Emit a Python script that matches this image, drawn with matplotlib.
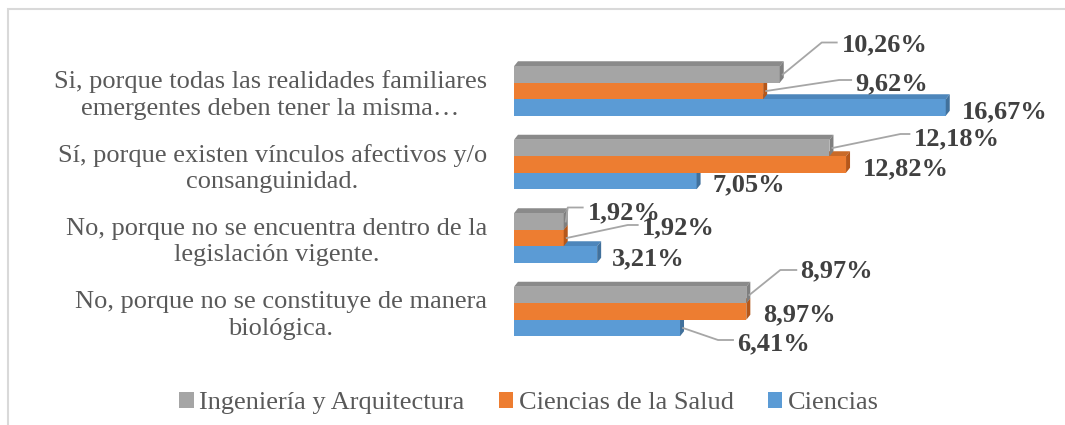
import matplotlib
matplotlib.use("Agg")
import matplotlib.pyplot as plt
from matplotlib.patches import Polygon, Patch, Rectangle

# data, top category first
categories = [
    "Si, porque todas las realidades familiares\nemergentes deben tener la misma…",
    "Sí, porque existen vínculos afectivos y/o\nconsanguinidad.",
    "No, porque no se encuentra dentro de la\nlegislación vigente.",
    "No, porque no se constituye de manera\nbiológica.",
]
series_names = ["Ingeniería y Arquitectura", "Ciencias de la Salud", "Ciencias"]
ingenieria = [10.26, 12.18, 1.92, 8.97]
salud = [9.62, 12.82, 1.92, 8.97]
ciencias = [16.67, 7.05, 3.21, 6.41]

colors = ["#a5a5a5", "#ed7d31", "#5b9bd5"]
side_colors = ["#7f7f7f", "#b5571a", "#41719c"]
top_colors = ["#8a8a8a", "#c96a28", "#4d86bb"]

W, H = 1065, 425
fig = plt.figure(figsize=(W / 100, H / 100), dpi=100)

# axes geometry in pixels
x0_px = 514
px_per_pct = 25.9
xmax = 20
group_px = 73.5
y_bottom_px = 311.5 + group_px / 2  # from top
ax = fig.add_axes([x0_px / W, (H - y_bottom_px) / H,
                   xmax * px_per_pct / W, 4 * group_px / H])
ax.set_xlim(0, xmax)
ax.set_ylim(-0.5, 3.5)
ax.axis("off")

PX = 1 / px_per_pct      # data units per pixel in x
PY = 1 / group_px        # data units per pixel in y

bar_h = 16.5 * PY
dx, dy = 4 * PX, 5 * PY
offsets = [bar_h, 0, -bar_h]   # gray on top, orange, blue
ypos = [3, 2, 1, 0]

series = [ingenieria, salud, ciencias]

# draw bottom series first so upper bars cover top faces
for s in [2, 1, 0]:
    for i, v in enumerate(series[s]):
        yc = ypos[i] + offsets[s]
        yb, yt = yc - bar_h / 2, yc + bar_h / 2
        ax.barh(yc, v, height=bar_h, color=colors[s], zorder=3 + (2 - s) * 3)
        ax.add_patch(Polygon([(v, yb), (v + dx, yb + dy), (v + dx, yt + dy), (v, yt)],
                             closed=True, facecolor=side_colors[s], edgecolor="none",
                             zorder=4 + (2 - s) * 3))
        ax.add_patch(Polygon([(0, yt), (v, yt), (v + dx, yt + dy), (dx, yt + dy)],
                             closed=True, facecolor=top_colors[s], edgecolor="none",
                             zorder=2 + (2 - s) * 3))

# label placement in pixels relative to bar end: text (dx, dy), optional leader knee/end
label_pos = {
    (0, 0): ((62, 32), [(3, 0), (42, 32), (57, 32)]),
    (1, 0): ((92, 9), [(3, 0), (76, 11), (88, 11)]),
    (2, 0): ((16, -2.5), None),
    (0, 1): ((84, 11.5), [(3, 0), (71, 14), (80, 14)]),
    (1, 1): ((17, -2), None),
    (2, 1): ((16, -1.5), None),
    (0, 2): ((24, 11), [(2, 0), (4, 14), (19, 14)]),
    (1, 2): ((78, 12.5), [(3, 0), (64, 13), (74, 13)]),
    (2, 2): ((15, -2), None),
    (0, 3): ((54, 26), [(3, 0), (34, 25), (50, 25)]),
    (1, 3): ((17, -1.5), None),
    (2, 3): ((57, -14), [(3, 0), (38, -12), (53, -12)]),
}

for s in range(3):
    for i, v in enumerate(series[s]):
        yc = ypos[i] + offsets[s]
        (tx, ty), leader = label_pos[(s, i)]
        if leader:
            xs = [v + p[0] * PX for p in leader]
            ys = [yc + p[1] * PY for p in leader]
            ax.plot(xs, ys, color="#a6a6a6", lw=1.3, zorder=20, clip_on=False)
        txt = f"{v:.2f}%".replace(".", ",")
        ax.text(v + tx * PX, yc + (ty - 8.5) * PY, txt, ha="left", va="baseline",
                fontsize=19, fontweight="bold", family="Liberation Serif",
                color="#404040", zorder=21, clip_on=False)

# category labels
for i, cat in enumerate(categories):
    ax.text(-27 * PX, ypos[i] - 4 * PY, cat, ha="right", va="center",
            multialignment="center", fontsize=19, family="Liberation Serif",
            color="#595959", linespacing=1.25, clip_on=False)

# legend
handles = [Patch(facecolor=c, edgecolor="none") for c in colors]
leg = fig.legend(handles, series_names, loc="center", bbox_to_anchor=(529 / W, (H - 403) / H),
                 ncol=3, frameon=False, handlelength=0.55, handleheight=0.55,
                 handletextpad=0.2, columnspacing=1.3,
                 prop={"family": "Liberation Serif", "size": 19})
for t in leg.get_texts():
    t.set_color("#595959")

# chart frame, partly off the image like the source
fig.add_artist(Rectangle((7.5 / W, -0.5), 2, (H - 8.5) / H + 0.5, transform=fig.transFigure,
                         fill=False, edgecolor="#d9d9d9", lw=1.5))

fig.savefig("out.png", dpi=100)
